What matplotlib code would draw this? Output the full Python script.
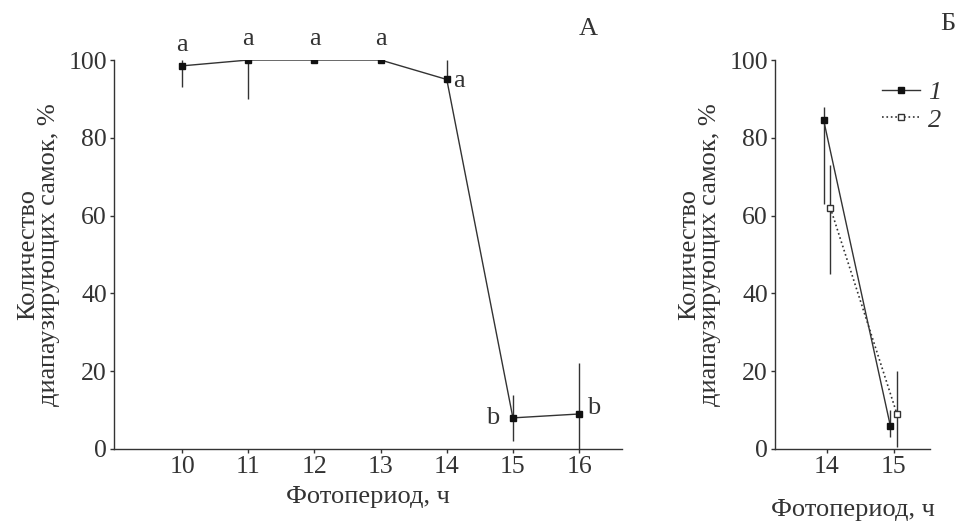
import matplotlib.pyplot as plt
import numpy as np

plt.rcParams['font.family'] = ['Liberation Serif', 'DejaVu Serif']

# Panel A: photoperiod vs share of diapausing females
photoperiod_a = [10, 11, 12, 13, 14, 15, 16]
share_a = [98.5, 100, 100, 100, 95, 8, 9]
err_lo_a = [93, 90, 100, 100, 94, 2, 0]
err_hi_a = [100, 100, 100, 100, 100, 14, 22]
letters_a = ['a', 'a', 'a', 'a', 'a', 'b', 'b']

# Panel Б: two series at 14 and 15 h
photoperiod_b = [14, 15]
share_b1 = [84.5, 6]
lo_b1 = [63, 3]
hi_b1 = [88, 10]
share_b2 = [62, 9]
lo_b2 = [45, 0.5]
hi_b2 = [73, 20]

ink = '#333333'
fs = 19
fs_tick = 18.5

fig = plt.figure(figsize=(9.64, 5.21), dpi=100)
ax1 = fig.add_axes([0.1183, 0.1382, 0.527, 0.7466])
ax2 = fig.add_axes([0.804, 0.1382, 0.161, 0.7466])

for ax in (ax1, ax2):
    for s in ('top', 'right'):
        ax.spines[s].set_visible(False)
    for s in ('left', 'bottom'):
        ax.spines[s].set_color(ink)
        ax.spines[s].set_linewidth(1.0)
    ax.set_ylim(0, 100)
    ax.set_yticks([0, 20, 40, 60, 80, 100])
    ax.tick_params(direction='out', length=3, width=1, colors=ink,
                   labelsize=fs_tick, labelcolor=ink, pad=2)
    ax.set_ylabel('Количество\nдиапаузирующих самок, %', fontsize=fs,
                  color=ink, linespacing=0.95, labelpad=6)

# --- panel A
x = np.array(photoperiod_a, dtype=float)
y = np.array(share_a)
ax1.vlines(x, err_lo_a, err_hi_a, color=ink, lw=1.0)
ax1.plot(x, y, '-', color=ink, lw=1.0, marker='s', ms=4.5,
         mfc='#111111', mec='#111111')
ax1.set_xlim(8.97, 16.65)
ax1.set_xticks(photoperiod_a)
ax1.set_xlabel('Фотопериод, ч', fontsize=fs, color=ink, labelpad=6)

for xi, yi, lab in zip(x, y, letters_a):
    if lab == 'b':
        continue
    if xi == 14:
        ax1.text(xi + 0.1, yi - 0.5, lab, fontsize=fs, color=ink, ha='left', va='center')
    else:
        ax1.text(xi, yi + 2.5, lab, fontsize=fs, color=ink, ha='center', va='bottom')
ax1.text(x[5] - 0.2, y[5], letters_a[5], fontsize=fs, color=ink, ha='right', va='center')
ax1.text(x[6] + 0.12, y[6] + 1.5, letters_a[6], fontsize=fs, color=ink, ha='left', va='center')
ax1.text(0.933, 1.08, 'А', transform=ax1.transAxes, fontsize=fs, color=ink,
         ha='center', va='center')

# --- panel Б
xb = np.array(photoperiod_b, dtype=float)
shift = 0.05
ax2.vlines(xb - shift, lo_b1, hi_b1, color=ink, lw=1.0)
ax2.vlines(xb + shift, lo_b2, hi_b2, color=ink, lw=1.0)
ax2.plot(xb - shift, share_b1, '-', color=ink, lw=1.0, marker='s', ms=4.5,
         mfc='#111111', mec='#111111', label='1')
ax2.plot(xb + shift, share_b2, ':', color=ink, lw=1.2, marker='s', ms=4.5,
         mfc='white', mec=ink, label='2')
ax2.set_xlim(13.22, 15.55)
ax2.set_xticks(photoperiod_b)
ax2.set_xlabel('Фотопериод, ч', fontsize=fs, color=ink, labelpad=15)
ax2.text(1.116, 1.093, 'Б', transform=ax2.transAxes, fontsize=fs, color=ink,
         ha='center', va='center')

leg = ax2.legend(loc='upper left', bbox_to_anchor=(0.69, 0.947), frameon=False,
                 fontsize=fs, handlelength=1.45, handletextpad=0.3,
                 labelspacing=0.15, borderaxespad=0, borderpad=0)
for t in leg.get_texts():
    t.set_style('italic')
    t.set_color(ink)

fig.savefig('out.png', dpi=100)
